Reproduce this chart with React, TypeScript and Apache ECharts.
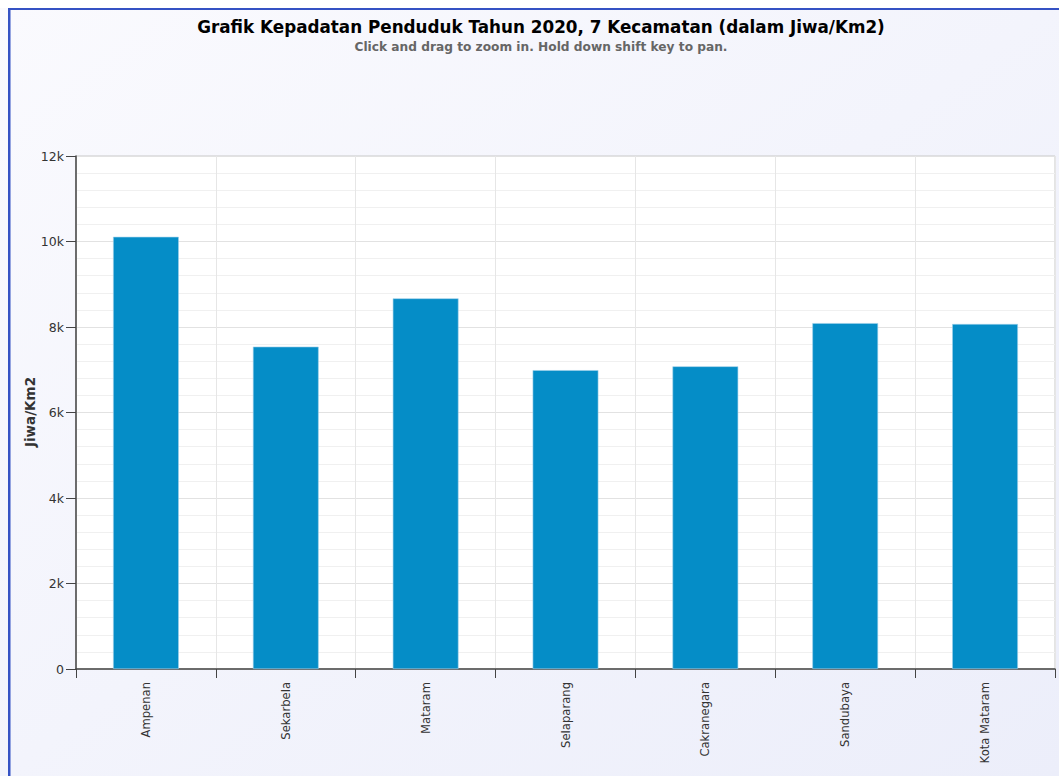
import React, { useEffect, useRef } from "react";
import * as echarts from "echarts";

const categories = ["Ampenan", "Sekarbela", "Mataram", "Selaparang", "Cakranegara", "Sandubaya", "Kota Mataram"];
const density = [10110, 7540, 8670, 6990, 7080, 8090, 8070];
const titleText = "Grafik Kepadatan Penduduk Tahun 2020, 7 Kecamatan (dalam Jiwa/Km2)";
const subtitleText = "Click and drag to zoom in. Hold down shift key to pan.";
const yAxisName = "Jiwa/Km2";

export default function App() {
  const ref = useRef<HTMLDivElement>(null);
  useEffect(() => {
    document.body.style.margin = "0";
    const chart = echarts.init(ref.current!, undefined, { renderer: "svg" });
    const font = "DejaVu Sans, Verdana, sans-serif";
    chart.setOption({
      animation: false,
      backgroundColor: {
        type: "linear", x: 0, y: 0, x2: 1, y2: 1,
        colorStops: [{ offset: 0, color: "#fafafe" }, { offset: 1, color: "#eceefa" }],
      },
      title: {
        text: titleText,
        subtext: subtitleText,
        left: 536,
        textAlign: "center",
        top: 13,
        itemGap: 6,
        textStyle: { fontFamily: font, fontSize: 16.8, fontWeight: "bold", color: "#000" },
        subtextStyle: { fontFamily: font, fontSize: 12.2, fontWeight: "bold", color: "#666" },
      },
      graphic: [
        { type: "rect", shape: { x: 0, y: 0, width: 1059, height: 8 }, style: { fill: "#ffffff" }, z: 10 },
        { type: "rect", shape: { x: 8, y: 8, width: 1051, height: 2 }, style: { fill: "#3552c4" }, z: 10 },
        { type: "rect", shape: { x: 8, y: 8, width: 2.5, height: 768 }, style: { fill: "#3552c4" }, z: 10 },
        {
          type: "text",
          x: 30,
          y: 412,
          rotation: Math.PI / 2,
          style: {
            text: yAxisName,
            fontFamily: font,
            fontSize: 13.5,
            fontWeight: "bold",
            fill: "#333",
            align: "center",
            verticalAlign: "middle",
          },
        },
      ],
      grid: { left: 76, right: 4, top: 156, bottom: 107, show: true, backgroundColor: "#ffffff", borderColor: "#c8c8c8", borderWidth: 1 },
      xAxis: {
        type: "category",
        data: categories,
        axisLine: { lineStyle: { color: "#444", width: 1.5 } },
        axisTick: { show: true, length: 9, lineStyle: { color: "#444" } },
        splitLine: { show: true, lineStyle: { color: "#e6e6e6" } },
        axisLabel: { rotate: 90, fontFamily: font, fontSize: 11.6, color: "#333", margin: 13 },
      },
      yAxis: {
        type: "value",
        min: 0,
        max: 12000,
        interval: 2000,
        axisLine: { show: true, lineStyle: { color: "#444", width: 1.5 } },
        axisTick: { show: true, length: 10, lineStyle: { color: "#444" } },
        axisLabel: {
          fontFamily: font, fontSize: 12.5, color: "#333", margin: 12,
          formatter: (v: number) => (v === 0 ? "0" : v / 1000 + "k"),
        },
        splitLine: { show: true, lineStyle: { color: "#e2e2e2" } },
        minorTick: { show: false, splitNumber: 5 },
        minorSplitLine: { show: true, lineStyle: { color: "#f0f0f0" } },
      },
      series: [
        {
          type: "bar",
          data: density,
          barWidth: "47%",
          itemStyle: { color: "#058dc7", borderColor: "#9fd0ea", borderWidth: 0.6 },
        },
      ],
    });
    return () => chart.dispose();
  }, []);
  return <div ref={ref} style={{ position: "absolute", left: 0, top: 0, width: 1059, height: 776 }} />;
}
